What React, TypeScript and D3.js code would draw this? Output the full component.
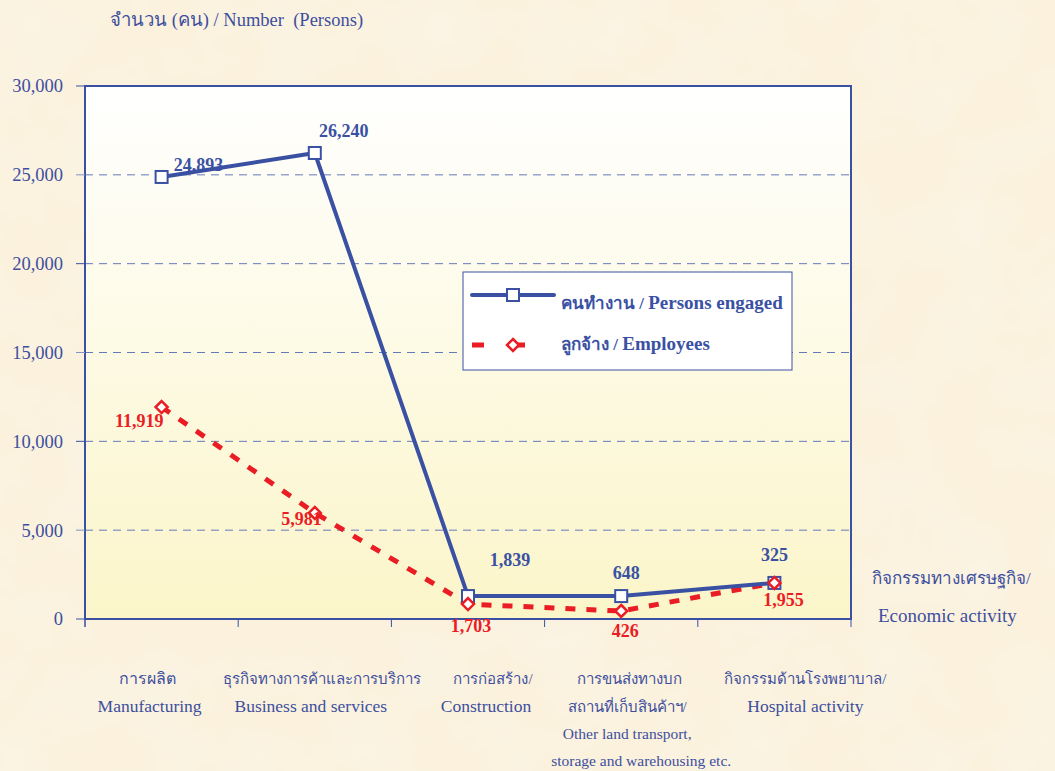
import React from 'react';
import * as d3 from 'd3';

const categoriesThai = ['การผลิต', 'ธุรกิจทางการค้าและการบริการ', 'การก่อสร้าง/', 'การขนส่งทางบก', 'กิจกรรมด้านโรงพยาบาล/'];
const categoriesEng = [
	['Manufacturing'],
	['Business and services'],
	['Construction'],
	['สถานที่เก็บสินค้าฯ/', 'Other land transport,', 'storage and warehousing etc.'],
	['Hospital activity'],
];
// plotted positions; labels as printed
const personsEngaged = [24880, 26230, 1290, 1290, 2030];
const employees = [11930, 5970, 840, 450, 2030];
const personsLabels = ['24,893', '26,240', '1,839', '648', '325'];
const employeesLabels = ['11,919', '5,981', '1,703', '426', '1,955'];
const yTicks = [0, 5000, 10000, 15000, 20000, 25000, 30000];

const W = 1055;
const H = 771;
const BLUE = '#3a51a3';
const RED = '#ea1c24';
const TEXT = '#3d4f9e';
const SERIF = '"Liberation Serif", "Times New Roman", serif';

export default function App() {
	const margin = { top: 86, right: 204, bottom: 152, left: 85 };
	const x = d3
		.scaleBand<number>()
		.domain(d3.range(categoriesThai.length))
		.range([margin.left, W - margin.right])
		.padding(0);
	const y = d3.scaleLinear().domain([0, 30000]).range([H - margin.bottom, margin.top]);
	const cx = (i: number) => (x(i) as number) + x.bandwidth() / 2;

	const line = d3
		.line<number>()
		.x((d, i) => cx(i))
		.y((d) => y(d));

	const fmt = d3.format(',');
	const left = margin.left;
	const right = W - margin.right;
	const top = margin.top;
	const bottom = H - margin.bottom;

	// per-category nudges of the text under the axis
	const labelShift = [-14, 7, 25, 8, 31];
	const engShift = [-12, -4, 18, 6, 31];

	const diamond = (px: number, py: number, r: number) =>
		`M${px},${py - r}L${px + r},${py}L${px},${py + r}L${px - r},${py}Z`;

	return (
		<svg width={W} height={H} style={{ position: 'absolute', left: 0, top: 0, display: 'block' }} fontFamily={SERIF}>
			<defs>
				<linearGradient id="plotbg" x1="0" y1="0" x2="0" y2="1">
					<stop offset="0%" stopColor="#ffffff" />
					<stop offset="100%" stopColor="#fbf5c9" />
				</linearGradient>
				<filter id="paper" x="0" y="0" width="100%" height="100%">
					<feTurbulence type="fractalNoise" baseFrequency="0.015" numOctaves="3" seed="4" result="n" />
					<feColorMatrix
						in="n"
						type="matrix"
						values="0 0 0 0 0.97  0 0 0 0 0.91  0 0 0 0 0.80  0 0 0 -1.2 0.85"
					/>
				</filter>
			</defs>
			<rect width={W} height={H} fill="#fbf1dc" />
			<rect width={W} height={H} filter="url(#paper)" />

			<rect x={left} y={top} width={right - left} height={bottom - top} fill="url(#plotbg)" />

			{yTicks
				.filter((t) => t > 0 && t < 30000)
				.map((t) => (
					<line key={t} x1={left} x2={right} y1={y(t)} y2={y(t)} stroke="#6679b8" strokeWidth={1} strokeDasharray="8,6" />
				))}

			<rect x={left} y={top} width={right - left} height={bottom - top} fill="none" stroke={BLUE} strokeWidth={2} />

			{yTicks.map((t) => (
				<g key={t}>
					<line x1={left - 9} x2={left} y1={y(t)} y2={y(t)} stroke={t % 10000 === 0 ? BLUE : '#8593c4'} strokeWidth={1} />
					<text x={63} y={y(t)} dy="0.35em" textAnchor="end" fontSize={18.5} fill={TEXT}>
						{fmt(t)}
					</text>
				</g>
			))}
			<line x1={left} x2={left} y1={bottom} y2={bottom + 8} stroke={BLUE} strokeWidth={1} />
			{d3.range(categoriesThai.length + 1).map((i) => {
				const xv = i < categoriesThai.length ? (x(i) as number) : right;
				return <line key={i} x1={xv} x2={xv} y1={bottom} y2={bottom + 8} stroke={BLUE} strokeWidth={1} />;
			})}

			<text x={110} y={26} fontSize={18.5} fill={TEXT} style={{ whiteSpace: 'pre' }}>
				{'จำนวน (คน) / Number  (Persons)'}
			</text>

			{categoriesThai.map((c, i) => (
				<g key={c} fill={TEXT} textAnchor="middle">
					<text x={cx(i) + labelShift[i]} y={684} fontSize={i === 0 ? 16 : 15}>
						{c}
					</text>
					{categoriesEng[i].map((s, j) => (
						<text
							key={s}
							x={cx(i) + engShift[i] + (j === 2 ? 14 : 0)}
							y={712 + j * 27}
							fontSize={i === 3 ? (j > 0 ? 15.5 : 15) : 17.5}
						>
							{s}
						</text>
					))}
				</g>
			))}

			<text x={872} y={584} fontSize={17} fill={TEXT}>
				กิจกรรมทางเศรษฐกิจ/
			</text>
			<text x={878} y={622} fontSize={19} fill={TEXT}>
				Economic activity
			</text>

			<path d={line(employees) || ''} fill="none" stroke={RED} strokeWidth={5} strokeDasharray="10,11" />
			<path d={line(personsEngaged) || ''} fill="none" stroke={BLUE} strokeWidth={4} strokeLinejoin="round" />

			{personsEngaged.map((v, i) => (
				<rect key={i} x={cx(i) - 6} y={y(v) - 6} width={12} height={12} fill="#fff" stroke={BLUE} strokeWidth={2} />
			))}
			{employees.map((v, i) => (
				<path key={i} d={diamond(cx(i), y(v), 6)} fill="#fff" stroke={RED} strokeWidth={2.5} />
			))}

			{personsLabels.map((s, i) => {
				const off = [
					[37, -6],
					[29, -16],
					[42, -30],
					[5, -17],
					[0, -22],
				][i];
				return (
					<text
						key={s}
						x={cx(i) + off[0]}
						y={y(personsEngaged[i]) + off[1]}
						textAnchor="middle"
						fontSize={18}
						fontWeight="bold"
						fill={BLUE}
					>
						{s}
					</text>
				);
			})}
			{employeesLabels.map((s, i) => {
				const off = [
					[2, 20],
					[7, 12],
					[3, 28],
					[4, 26],
					[9, 23],
				][i];
				return (
					<text
						key={s}
						x={cx(i) + off[0]}
						y={y(employees[i]) + off[1]}
						textAnchor={i < 2 ? 'end' : 'middle'}
						fontSize={18}
						fontWeight="bold"
						fill={RED}
					>
						{s}
					</text>
				);
			})}

			<g>
				<rect x={463} y={272} width={329} height={98} fill="#fff" stroke={BLUE} strokeWidth={1} />
				<line x1={472} x2={554} y1={295} y2={295} stroke={BLUE} strokeWidth={4} strokeLinecap="round" />
				<rect x={507} y={289} width={12} height={12} fill="#fff" stroke={BLUE} strokeWidth={2} />
				<line x1={472} x2={554} y1={345} y2={345} stroke={RED} strokeWidth={5} strokeDasharray="12,29" />
				<path d={diamond(513, 345, 6)} fill="#fff" stroke={RED} strokeWidth={2.5} />
				<text x={561} y={309} fontSize={17} fontWeight="bold" fill={BLUE}>
					คนทำงาน / <tspan fontSize={19}>Persons engaged</tspan>
				</text>
				<text x={561} y={350} fontSize={17} fontWeight="bold" fill={BLUE}>
					ลูกจ้าง / <tspan fontSize={19}>Employees</tspan>
				</text>
			</g>
		</svg>
	);
}
